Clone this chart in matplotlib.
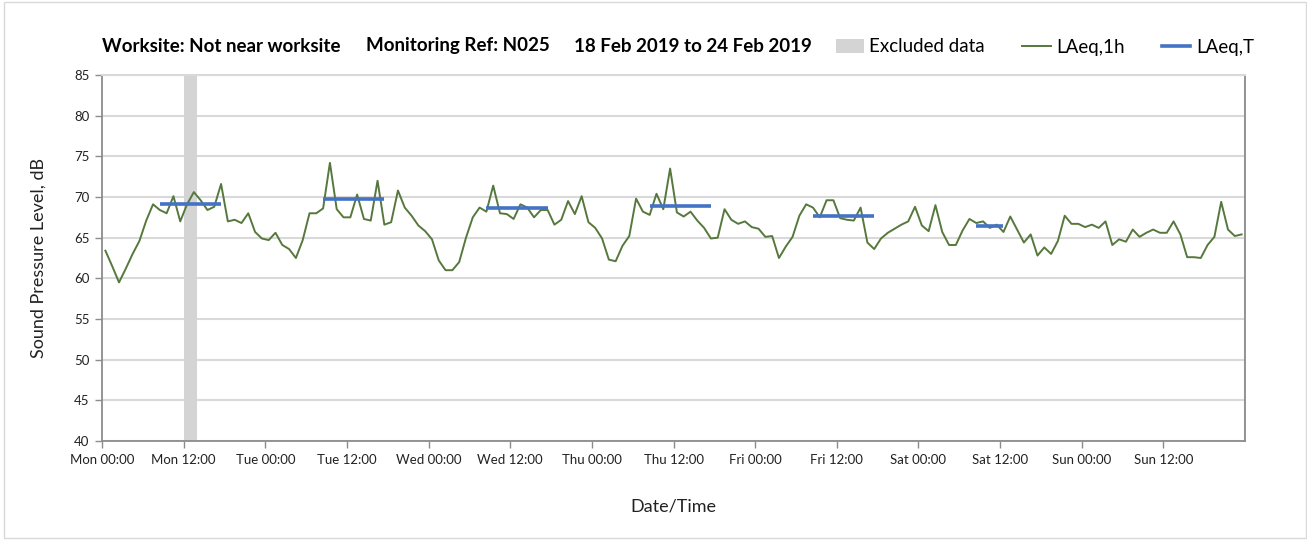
import numpy as np
import pandas as pd
import matplotlib
matplotlib.use("Agg")
import matplotlib.pyplot as plt
import matplotlib.dates as mdates
from matplotlib.patches import Patch, Rectangle
from matplotlib.lines import Line2D

plt.rcParams['font.family'] = ['Lato', 'DejaVu Sans']

# Hourly LAeq,1h values (dB), one list per day, hour 00 to 23
mon = [63.4, 61.5, 59.5, 61.2, 63.0, 64.6, 67.1, 69.1, 68.4, 68.0, 70.1, 67.0,
       69.1, 70.6, 69.6, 68.4, 68.8, 71.6, 67.0, 67.2, 66.8, 68.0, 65.7, 64.9]
tue = [64.7, 65.6, 64.1, 63.6, 62.5, 64.7, 68.0, 68.0, 68.6, 74.2, 68.5, 67.5,
       67.5, 70.3, 67.3, 67.1, 72.0, 66.6, 66.9, 70.8, 68.7, 67.7, 66.5, 65.8]
wed = [64.8, 62.2, 61.0, 61.0, 62.0, 65.0, 67.5, 68.7, 68.2, 71.4, 68.0, 67.9,
       67.3, 69.1, 68.7, 67.5, 68.4, 68.4, 66.6, 67.2, 69.5, 67.9, 70.1, 66.9]
thu = [66.2, 64.9, 62.3, 62.1, 64.0, 65.2, 69.8, 68.2, 67.8, 70.4, 68.5, 73.5,
       68.1, 67.6, 68.2, 67.1, 66.2, 64.9, 65.0, 68.5, 67.2, 66.7, 67.0, 66.3]
fri = [66.1, 65.1, 65.2, 62.5, 63.9, 65.1, 67.7, 69.1, 68.7, 67.5, 69.6, 69.6,
       67.4, 67.2, 67.1, 68.7, 64.4, 63.6, 64.9, 65.6, 66.1, 66.6, 67.0, 68.8]
sat = [66.5, 65.8, 69.0, 65.7, 64.1, 64.1, 65.9, 67.3, 66.8, 67.0, 66.2, 66.6,
       65.7, 67.6, 66.0, 64.4, 65.4, 62.8, 63.8, 63.0, 64.6, 67.7, 66.7, 66.7]
sun = [66.3, 66.6, 66.2, 67.0, 64.1, 64.8, 64.5, 66.0, 65.1, 65.6, 66.0, 65.6,
       65.6, 67.0, 65.4, 62.6, 62.6, 62.5, 64.1, 65.1, 69.4, 66.0, 65.2, 65.4]
laeq_1h = mon + tue + wed + thu + fri + sat + sun

# each hourly value is plotted at the middle of its hour
times = pd.date_range('2019-02-18 00:30', periods=len(laeq_1h), freq='h')

# LAeq,T over the daytime period of each day
laeqt_start = ['2019-02-18 08:30', '2019-02-19 08:30', '2019-02-20 08:30',
               '2019-02-21 08:30', '2019-02-22 08:30', '2019-02-23 08:30']
laeqt_end = ['2019-02-18 17:30', '2019-02-19 17:30', '2019-02-20 17:30',
             '2019-02-21 17:30', '2019-02-22 17:30', '2019-02-23 12:30']
laeqt_val = [69.2, 69.7, 68.7, 68.9, 67.7, 66.4]

# excluded period
excl_start = '2019-02-18 12:00'
excl_end = '2019-02-18 14:00'

green = '#56783d'
blue = '#4472c4'
grey_grid = '#d9d9d9'
axis_grey = '#8c8c8c'

fig = plt.figure(figsize=(13.07, 5.4), dpi=100)
ax = fig.add_axes([102 / 1307, 1 - 441 / 540, (1245 - 102) / 1307, (441 - 75) / 540])

ax.axvspan(pd.Timestamp(excl_start), pd.Timestamp(excl_end), color='#d4d4d4', lw=0, zorder=1)
ax.plot(times, laeq_1h, color=green, lw=1.4, zorder=3)
for s, e, v in zip(laeqt_start, laeqt_end, laeqt_val):
    ax.plot([pd.Timestamp(s), pd.Timestamp(e)], [v, v], color=blue, lw=2.6,
            solid_capstyle='butt', zorder=4)

ax.set_xlim(pd.Timestamp('2019-02-18 00:00'), pd.Timestamp('2019-02-25 00:00'))
ax.set_ylim(40, 85)
ax.set_yticks(np.arange(40, 86, 5))
ax.xaxis.set_major_locator(mdates.HourLocator(byhour=[0, 12]))
ax.xaxis.set_major_formatter(mdates.DateFormatter('%a %H:%M'))
ax.xaxis.set_minor_locator(mdates.DayLocator())

ax.grid(axis='y', color=grey_grid, lw=1.5, zorder=0)
ax.grid(axis='x', which='minor', color=grey_grid, lw=1.5, zorder=0)
ax.set_axisbelow(True)

for side in ['left', 'bottom', 'right']:
    ax.spines[side].set_color(axis_grey)
    ax.spines[side].set_linewidth(1.3)
ax.spines['top'].set_color(grey_grid)
ax.spines['top'].set_linewidth(1.5)

ax.tick_params(axis='both', which='major', labelsize=9.5, colors='#222222',
               direction='out', length=5, width=1, pad=4)
ax.tick_params(axis='x', which='minor', length=0)
ax.tick_params(axis='both', which='major', color=axis_grey)
xt = ax.get_xticks()
ax.set_xticks(xt[:-1])

ax.set_ylabel('Sound Pressure Level, dB', fontsize=13, color='#222222', labelpad=20)
ax.set_xlabel('Date/Time', fontsize=13, color='#222222', labelpad=24)

# heading
ty = 1 - 46 / 540
fig.text(102 / 1307, ty, 'Worksite: Not near worksite', fontsize=13.5, fontweight='bold', va='center')
fig.text(366 / 1307, ty, 'Monitoring Ref: N025', fontsize=13.5, fontweight='bold', va='center')
fig.text(574 / 1307, ty, '18 Feb 2019 to 24 Feb 2019', fontsize=13.5, fontweight='bold', va='center')

handles = [Patch(facecolor='#d4d4d4', edgecolor='none'),
           Line2D([], [], color=green, lw=1.4),
           Line2D([], [], color=blue, lw=2.6)]
fig.legend(handles, ['Excluded data', 'LAeq,1h', 'LAeq,T'], ncol=3, frameon=False,
           fontsize=13.5, loc='center left', bbox_to_anchor=(828 / 1307, 1 - 47 / 540),
           handlelength=1.5, handletextpad=0.3, columnspacing=2.0, borderaxespad=0)

# chart area border
fig.add_artist(Rectangle((4 / 1307, 2 / 540), 1302 / 1307, 536 / 540, transform=fig.transFigure,
                         fill=False, edgecolor='#d9d9d9', lw=1))

fig.savefig('out.png', dpi=100, facecolor='white')
